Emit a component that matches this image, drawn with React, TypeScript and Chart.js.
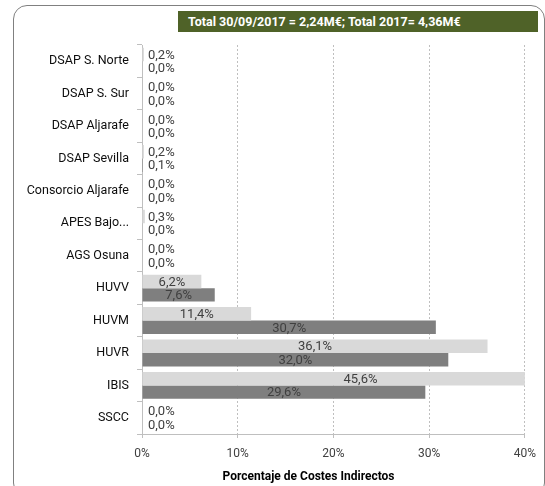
import React, { useEffect, useRef } from "react";
import { Chart, registerables } from "chart.js";

Chart.register(...registerables);

const categories = [
  "DSAP S. Norte",
  "DSAP S. Sur",
  "DSAP Aljarafe",
  "DSAP Sevilla",
  "Consorcio Aljarafe",
  "APES Bajo...",
  "AGS Osuna",
  "HUVV",
  "HUVM",
  "HUVR",
  "IBIS",
  "SSCC",
];
const seriesSep2017 = [0.2, 0.0, 0.0, 0.2, 0.0, 0.3, 0.0, 6.2, 11.4, 36.1, 45.6, 0.0];
const series2017 = [0.0, 0.0, 0.0, 0.1, 0.0, 0.0, 0.0, 7.6, 30.7, 32.0, 29.6, 0.0];
const xTickValues = [0, 10, 20, 30, 40];
const headline = "Total 30/09/2017 = 2,24M€; Total 2017= 4,36M€";
const xTitle = "Porcentaje de Costes Indirectos";

const FONT = "Roboto, 'DejaVu Sans Condensed', sans-serif";

const labelPlugin = {
  id: "barLabels",
  afterDatasetsDraw(chart: any) {
    const ctx = chart.ctx;
    const area = chart.chartArea;
    ctx.save();
    ctx.font = `13px ${FONT}`;
    ctx.fillStyle = "#404040";
    ctx.textAlign = "center";
    ctx.textBaseline = "middle";
    chart.data.datasets.forEach((ds: any, di: number) => {
      const meta = chart.getDatasetMeta(di);
      meta.data.forEach((el: any, i: number) => {
        const v = ds.data[i] as number;
        const txt = v.toFixed(1).replace(".", ",") + "%";
        const w = ctx.measureText(txt).width;
        const center = (el.x + el.base) / 2;
        const cx = Math.max(center, area.left + 6 + w / 2);
        ctx.fillText(txt, cx, el.y + 1);
      });
    });
    ctx.restore();
  },
  afterDraw(chart: any) {
    const ctx = chart.ctx;
    const xs = chart.scales.x;
    ctx.save();
    ctx.font = `bold 12px ${FONT}`;
    ctx.fillStyle = "#000000";
    ctx.textAlign = "center";
    ctx.textBaseline = "middle";
    // Excel places the axis title slightly left of the plot centre
    ctx.fillText(xTitle, xs.left + (xs.right - xs.left) * 0.435, xs.bottom - 9);
    ctx.restore();
  },
};

export default function App() {
  const canvasRef = useRef<HTMLCanvasElement | null>(null);

  useEffect(() => {
    if (!canvasRef.current) return;
    const chart = new Chart(canvasRef.current, {
      type: "bar",
      data: {
        labels: categories,
        datasets: [
          {
            label: "30/09/2017",
            data: seriesSep2017,
            backgroundColor: "#d9d9d9",
            barPercentage: 1,
            categoryPercentage: 0.83,
          },
          {
            label: "2017",
            data: series2017,
            backgroundColor: "#7f7f7f",
            barPercentage: 1,
            categoryPercentage: 0.83,
          },
        ],
      },
      options: {
        indexAxis: "y",
        animation: false,
        responsive: false,
        maintainAspectRatio: false,
        layout: { padding: { top: 45, right: 17, left: 0, bottom: 0 } },
        plugins: {
          legend: { display: false },
          tooltip: { enabled: false },
          title: { display: false },
        },
        scales: {
          y: {
            type: "category",
            grid: {
              drawOnChartArea: false,
              drawTicks: true,
              tickLength: 5,
              color: "#bfbfbf",
              offset: true,
            },
            border: { display: true, color: "#bfbfbf" },
            ticks: {
              color: "#0d0d0d",
              font: { family: FONT, size: 12.5 },
              padding: 8,
              autoSkip: false,
            },
            afterFit(s: any) {
              s.width = 142;
            },
          },
          x: {
            type: "linear",
            min: xTickValues[0],
            max: xTickValues[xTickValues.length - 1],
            afterBuildTicks(s: any) {
              s.ticks = xTickValues.map((v) => ({ value: v }));
            },
            ticks: {
              callback: (v: any) => v + "%",
              color: "#404040",
              font: { family: FONT, size: 12 },
              padding: 9,
            },
            grid: {
              color: (c: any) => (c.tick && c.tick.value === 0 ? "rgba(0,0,0,0)" : "#bfbfbf"),
              tickColor: "#bfbfbf",
              tickLength: 4,
              tickBorderDash: [],
            },
            border: { display: true, color: "#bfbfbf", dash: [2, 2] },
            title: { display: false },
            afterFit(s: any) {
              s.height = 52;
            },
          },
        },
      },
      plugins: [labelPlugin],
    } as any);
    return () => chart.destroy();
  }, []);

  return (
    <div
      style={{
        position: "fixed",
        left: 0,
        top: 0,
        width: 545,
        height: 486,
        overflow: "hidden",
        background: "#ffffff",
      }}
    >
      <div
        style={{
          position: "absolute",
          left: 13,
          top: 5,
          width: 532,
          height: 492,
          border: "1px solid #808080",
          borderRadius: 14,
          boxSizing: "border-box",
        }}
      />
      <canvas
        ref={canvasRef}
        width={545}
        height={486}
        style={{ position: "absolute", left: 0, top: 0, width: 545, height: 486 }}
      />
      <div
        style={{
          position: "absolute",
          left: 178,
          top: 11,
          width: 360,
          height: 21,
          background: "#4f6228",
          color: "#ffffff",
          fontFamily: FONT,
          fontWeight: "bold",
          fontSize: 12.5,
          lineHeight: "21px",
          paddingLeft: 10,
          boxSizing: "border-box",
          whiteSpace: "nowrap",
        }}
      >
        {headline}
      </div>
    </div>
  );
}
